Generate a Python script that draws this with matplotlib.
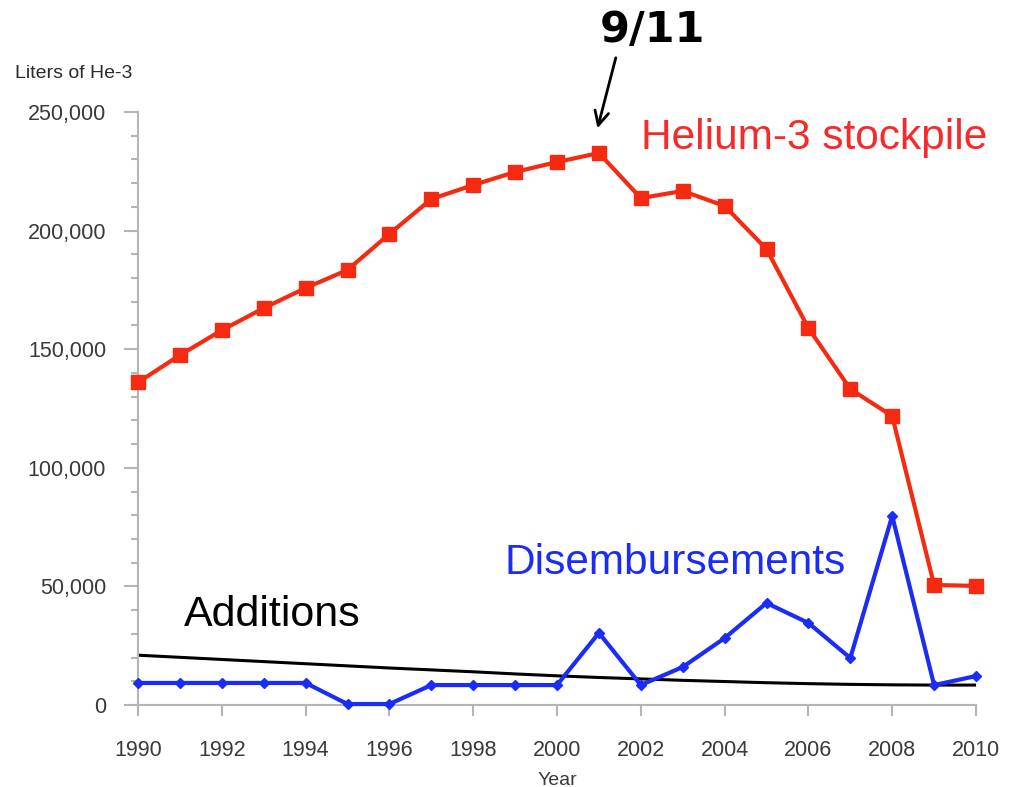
import numpy as np
import matplotlib.pyplot as plt
from matplotlib.ticker import MultipleLocator, FuncFormatter

# -- data --
years = list(range(1990, 2011))
stockpile = [136000, 147500, 158000, 167300, 175800, 183400, 198600, 213300, 219200, 224700,
             228900, 232700, 213700, 216700, 210400, 192200, 158900, 133200, 121800, 50600, 50200]
disbursements = [9300, 9300, 9300, 9300, 9300, 400, 400, 8400, 8400, 8400,
                 8400, 30400, 8400, 16000, 28200, 43000, 34600, 19800, 79700, 8400, 12200]
additions = [21000, 20100, 19200, 18300, 17400, 16500, 15600, 14800, 14000, 13100,
             12300, 11600, 11000, 10400, 9900, 9400, 9000, 8700, 8500, 8400, 8400]

plt.rcParams['font.family'] = ['Liberation Sans', 'DejaVu Sans']

fig = plt.figure(figsize=(10.09, 7.87), dpi=100)
ax = fig.add_axes([138/1009, 1 - 705/787, (976 - 138)/1009, (705 - 112)/787])

ax.plot(years, additions, color='black', lw=2.2, zorder=2)
ax.plot(years, disbursements, color='#1a2cf5', lw=3, marker='D', markersize=5, zorder=3, clip_on=False)
ax.plot(years, stockpile, color='#f52a10', lw=3, marker='s', markersize=10, zorder=4, clip_on=False)

ax.set_xlim(1990, 2010)
ax.set_ylim(0, 250000)
ax.xaxis.set_major_locator(MultipleLocator(2))
ax.yaxis.set_major_locator(MultipleLocator(50000))
ax.yaxis.set_minor_locator(MultipleLocator(10000))
ax.yaxis.set_major_formatter(FuncFormatter(lambda v, p: f'{int(v):,}'))

for s in ['top', 'right']:
    ax.spines[s].set_visible(False)
for s in ['left', 'bottom']:
    ax.spines[s].set_color('#b5b5b5')
    ax.spines[s].set_linewidth(1.5)
ax.tick_params(axis='both', which='both', color='#b5b5b5', width=1.5, labelcolor='#3a3a3a', labelsize=15.5)
ax.tick_params(axis='y', which='major', length=10, pad=13)
ax.tick_params(axis='y', which='minor', length=5)
ax.tick_params(axis='x', length=8, pad=17)

ax.set_xlabel('Year', fontsize=14, color='#3a3a3a', labelpad=8)
fig.text(15/1009, 1 - 73/787, 'Liters of He-3', fontsize=14, color='#2a2a2a', va='center', ha='left')

# -- annotations --
ax.text(2002.0, 239000, 'Helium-3 stockpile', color='#f52a2a', fontsize=30.5, va='center', ha='left')
ax.text(1998.75, 60000, 'Disembursements', color='#1a2cf5', fontsize=30.5, va='center', ha='left')
ax.text(1991.1, 38000, 'Additions', color='black', fontsize=31, va='center', ha='left')
ax.annotate('', xy=(2000.95, 242000), xytext=(2001.42, 274000),
            arrowprops=dict(arrowstyle='->', color='black', lw=2, mutation_scale=25),
            annotation_clip=False)
fig.text(653/1009, 1 - 30/787, '9/11', family='DejaVu Sans', fontweight='bold',
         fontsize=31, ha='center', va='center')

plt.savefig('out.png', dpi=100)
